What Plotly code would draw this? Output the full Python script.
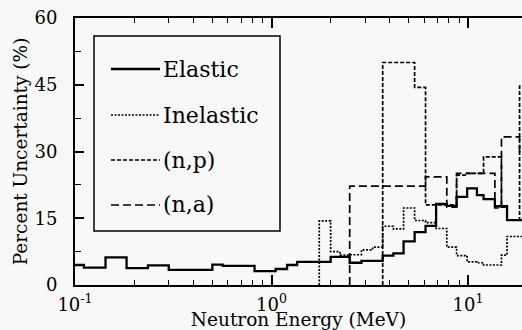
import plotly.graph_objects as go

# ---- data ----
energy_edges = [0.1, 0.111, 0.143, 0.183, 0.235, 0.3, 0.5, 0.565, 0.82, 1.05, 1.2, 1.35,
                1.75, 2.0, 2.23, 2.5, 2.87, 3.27, 3.68, 4.17, 4.7, 5.35, 6.08, 6.88,
                7.8, 8.75, 9.9, 11.1, 12.0, 13.7, 14.8, 15.8, 18.3, 20.0]
elastic = [4.5, 3.9, 6.2, 3.8, 4.4, 3.4, 4.6, 4.3, 3.1, 3.6, 4.5, 5.2,
           5.2, 6.3, 6.3, 5.0, 5.4, 5.4, 6.6, 7.1, 9.8, 11.9, 13.3, 18.2,
           17.8, 19.8, 21.7, 20.2, 19.3, 17.7, 17.7, 14.6, 14.6]
inelastic = [0, 0, 0, 0, 0, 0, 0, 0, 0, 0, 0, 0,
             14.4, 7.5, 6.7, 6.8, 7.9, 8.5, 13.2, 12.6, 17.3, 14.5, 14.0, 12.7,
             8.5, 6.6, 5.2, 5.0, 4.5, 4.5, 6.7, 10.9, 10.9]
n_p = [0, 0, 0, 0, 0, 0, 0, 0, 0, 0, 0, 0,
       0, 0, 0, 0, 0, 0, 50.0, 50.0, 50.0, 44.4, 18.0, 18.0,
       18.0, 24.7, 25.1, 25.1, 28.8, 28.8, 17.5, 14.6, 44.7]
n_a = [0, 0, 0, 0, 0, 0, 0, 0, 0, 0, 0, 0,
       0, 0, 0, 22.2, 22.2, 22.2, 22.2, 22.2, 22.2, 22.2, 24.3, 24.3,
       17.5, 25.1, 25.1, 25.1, 25.1, 17.3, 33.3, 33.3, 29.7]
series_names = ["Elastic", "Inelastic", "(n,p)", "(n,a)"]
y_ticks = [0, 15, 30, 45, 60]
x_ticks = [0.1, 1, 10]
x_tick_text = ["10<sup>-1</sup>", "10<sup>0</sup>", "10<sup>1</sup>"]

# ---- geometry ----
W, H = 522, 330
L, R, T, B = 75, 0, 18, 45
PW, PH = W - L - R, H - T - B
FONT = "DejaVu Serif"
BG = "#f8f8f8"


def px_x(px):
    return (px - L) / PW


def px_y(py):
    return (H - B - py) / PH


def step_xy(vals):
    k = next(i for i, v in enumerate(vals) if v != 0)
    xs = list(energy_edges[k:])
    ys = list(vals[k:]) + [vals[-1]]
    if k > 0:
        xs = [energy_edges[k]] + xs
        ys = [0] + ys
    return xs, ys


styles = {
    "Inelastic": dict(color="black", width=1.7, dash="2px,1.5px"),
    "(n,p)": dict(color="black", width=1.7, dash="4px,2px"),
    "(n,a)": dict(color="black", width=1.7, dash="8px,4px"),
    "Elastic": dict(color="black", width=2.3, dash="solid"),
}
data_map = {"Elastic": elastic, "Inelastic": inelastic, "(n,p)": n_p, "(n,a)": n_a}

fig = go.Figure()
for name in ["Inelastic", "(n,p)", "(n,a)", "Elastic"]:
    xs, ys = step_xy(data_map[name])
    fig.add_trace(go.Scatter(x=xs, y=ys, mode="lines", line=styles[name],
                             line_shape="hv", name=name, showlegend=False))

# ---- manual legend box ----
shapes = [dict(type="rect", xref="paper", yref="paper",
               x0=px_x(94), x1=px_x(280), y0=px_y(231), y1=px_y(36),
               line=dict(color="black", width=1.5), fillcolor=BG, layer="above")]
annotations = []
leg_y = [69, 115, 160, 205]
for name, yy in zip(series_names, leg_y):
    st = styles[name]
    shapes.append(dict(type="line", xref="paper", yref="paper",
                       x0=px_x(111), x1=px_x(160), y0=px_y(yy), y1=px_y(yy),
                       line=dict(color="black", width=st["width"], dash=st["dash"]),
                       layer="above"))
    annotations.append(dict(text=name, xref="paper", yref="paper",
                            x=px_x(161), y=px_y(yy), xanchor="left", yanchor="middle",
                            showarrow=False,
                            font=dict(family=FONT, size=22, color="black")))

fig.update_layout(
    width=W, height=H,
    margin=dict(l=L, r=R, t=T, b=B, autoexpand=False),
    paper_bgcolor=BG, plot_bgcolor=BG,
    shapes=shapes, annotations=annotations,
    font=dict(family=FONT, size=18, color="black"),
    xaxis=dict(
        type="log", range=[-1, -1 + PW / 196.5],
        tickvals=x_ticks, ticktext=x_tick_text,
        showline=True, linecolor="black", linewidth=2, mirror="ticks",
        ticks="inside", ticklen=10, tickwidth=1.5, tickcolor="black",
        minor=dict(dtick="D1", ticks="inside", ticklen=5, tickwidth=1, tickcolor="black", showgrid=False),
        showgrid=False, zeroline=False,
        tickfont=dict(family=FONT, size=18),
        ticklabelstandoff=2,
        title=dict(text="Neutron Energy (MeV)", font=dict(family=FONT, size=18.5), standoff=0),
    ),
    yaxis=dict(
        range=[0, 60], tickvals=y_ticks,
        showline=True, linecolor="black", linewidth=2, mirror=False,
        ticks="inside", ticklen=9, tickwidth=1.5, tickcolor="black",
        minor=dict(dtick=7.5, ticks="inside", ticklen=6, tickwidth=1, tickcolor="black", showgrid=False),
        showgrid=False, zeroline=False,
        tickfont=dict(family=FONT, size=18),
        ticklabelstandoff=12,
        title=dict(text="Percent Uncertainty (%)", font=dict(family=FONT, size=18.5), standoff=2),
    ),
)

fig.write_html("out.html")
